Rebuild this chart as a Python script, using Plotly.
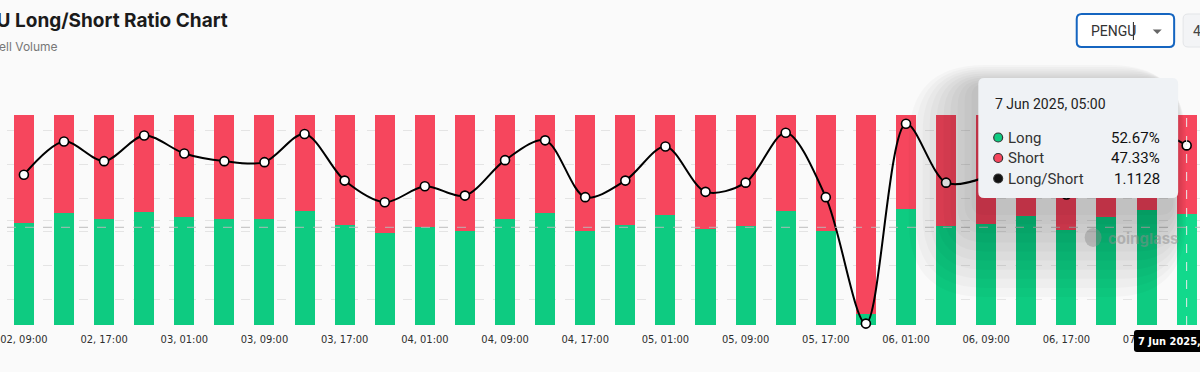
import plotly.graph_objects as go

# ---------------- data ----------------
bar_times = ["02, 09:00", "02, 13:00", "02, 17:00", "02, 21:00", "03, 01:00", "03, 05:00",
             "03, 09:00", "03, 13:00", "03, 17:00", "03, 21:00", "04, 01:00", "04, 05:00",
             "04, 09:00", "04, 13:00", "04, 17:00", "04, 21:00", "05, 01:00", "05, 05:00",
             "05, 09:00", "05, 13:00", "05, 17:00", "05, 21:00", "06, 01:00", "06, 05:00",
             "06, 09:00", "06, 13:00", "06, 17:00", "06, 21:00", "07, 01:00", "07, 05:00"]
tick_labels = bar_times[::2]

long_pct = [48.43, 53.19, 50.48, 53.95, 51.57, 50.48, 50.33, 54.14, 47.48, 43.67,
            46.52, 44.90, 50.62, 53.33, 44.62, 47.48, 52.52, 45.57, 47.14, 54.29,
            44.62, 5.24, 55.38, 47.14, 48.10, 51.90, 45.10, 51.29, 54.62, 52.67]
short_pct = [51.57, 46.81, 49.52, 46.05, 48.43, 49.52, 49.67, 45.86, 52.52, 56.33,
             53.48, 55.10, 49.38, 46.67, 55.38, 52.52, 47.48, 54.43, 52.86, 45.71,
             55.38, 94.76, 44.62, 52.86, 51.90, 48.10, 54.90, 48.71, 45.38, 47.33]
ls_ratio = [0.9390, 1.1363, 1.0194, 1.1716, 1.0648, 1.0194, 1.0133, 1.1806, 0.9040, 0.7753,
            0.8699, 0.8149, 1.0251, 1.1427, 0.8057, 0.9040, 1.1061, 0.8372, 0.8918, 1.1877,
            0.8057, 0.0553, 1.2411, 0.8918, 0.9268, 1.0790, 0.8215, 1.0530, 1.2036, 1.1128]

tooltip_title = "7 Jun 2025, 05:00"
tooltip_rows = [("Long", "52.67%", "#0ecb81"), ("Short", "47.33%", "#f6465d"),
                ("Long/Short", "1.1128", "#111111")]

GREEN = "#0ecb81"
RED = "#f6465d"
BG = "#fafafa"

W, H = 1200, 372
PT, PB = 115, 325  # plot area top / bottom in px


def px(x):
    return x / W


def py(y):
    return (PB - y) / (PB - PT)


def rrect_path(x0, y0, x1, y1, r):
    pts = [
        ("M", [(x0 + r, y0)]), ("L", [(x1 - r, y0)]), ("Q", [(x1, y0), (x1, y0 + r)]),
        ("L", [(x1, y1 - r)]), ("Q", [(x1, y1), (x1 - r, y1)]), ("L", [(x0 + r, y1)]),
        ("Q", [(x0, y1), (x0, y1 - r)]), ("L", [(x0, y0 + r)]), ("Q", [(x0, y0), (x0 + r, y0)]),
    ]
    s = ""
    for cmd, ps in pts:
        s += cmd + " " + " ".join(f"{px(a):.5f},{py(b):.5f}" for a, b in ps) + " "
    return s + "Z"


long_colors = [GREEN] * len(long_pct)
long_colors[-1] = "#12d98c"

fig = go.Figure()
fig.add_trace(go.Bar(x=bar_times, y=long_pct, name="Long", marker=dict(color=long_colors, line=dict(width=0)),
                     width=0.5, yaxis="y"))
fig.add_trace(go.Bar(x=bar_times, y=short_pct, name="Short", marker=dict(color=RED, line=dict(width=0)),
                     width=0.5, yaxis="y"))
fig.add_trace(go.Scatter(x=bar_times, y=ls_ratio, name="Long/Short", yaxis="y2", mode="lines+markers",
                         line=dict(color="#000000", width=2, shape="spline", smoothing=0.9),
                         marker=dict(size=9, color="#ffffff", line=dict(color="#000000", width=1.6)),
                         cliponaxis=False))

r_per_px = 168.5
r_zero_px = 332.9
y2_range = [(r_zero_px - PB) / r_per_px, (r_zero_px - PT) / r_per_px]

fig.update_layout(
    width=W, height=H,
    margin=dict(l=0, r=0, t=PT, b=H - PB, pad=0),
    paper_bgcolor=BG, plot_bgcolor=BG,
    barmode="stack", bargap=0.5,
    showlegend=False,
    xaxis=dict(type="category", range=[-17 / 40.33, -17 / 40.33 + W / 40.33],
               tickmode="array", tickvals=tick_labels, ticktext=tick_labels,
               showgrid=False, zeroline=False, showline=False, ticks="", ticklabelstandoff=6,
               tickfont=dict(family="DejaVu Sans Condensed, Roboto Condensed, Roboto", size=11, color="#2e2e2e")),
    yaxis=dict(range=[0, 100], dtick=50, showticklabels=False, zeroline=False,
               gridcolor="#e4e4e4", griddash="dash", gridwidth=1),
    yaxis2=dict(overlaying="y", side="right", range=y2_range, tick0=0, dtick=0.2,
                showticklabels=False, zeroline=False, gridcolor="#e4e4e4", griddash="dash", gridwidth=1),
    font=dict(family="Roboto, Inter, sans-serif"),
)

shapes = []
# crosshair
shapes.append(dict(type="line", xref="paper", yref="paper", x0=0, x1=1, y0=py(227.3), y1=py(227.3),
                   line=dict(color="rgba(185,185,185,0.95)", width=1, dash="dash"), layer="above"))
xc = 17 + 40.33 * 29
shapes.append(dict(type="line", xref="paper", yref="paper", x0=px(xc), x1=px(xc), y0=0, y1=1,
                   line=dict(color="rgba(235,235,235,1)", width=1, dash="dash"), layer="above"))

# tooltip shadow
bx0, by0, bx1, by1 = 977, 78, 1178, 198
for k in range(1, 11):
    e = 7 * k
    shapes.append(dict(type="path", xref="paper", yref="paper",
                       path=rrect_path(bx0 - e, by0 - 0.3 * e + 8, bx1 + 0.2 * e - 6, by1 + 1.3 * e + 8, 6 + e),
                       fillcolor="rgba(0,0,0,0.022)", line=dict(width=0), layer="above"))
# tooltip box
shapes.append(dict(type="path", xref="paper", yref="paper", path=rrect_path(bx0, by0, bx1, by1, 6),
                   fillcolor="#eff2f5", line=dict(width=0), layer="above"))
for i, (lab, val, col) in enumerate(tooltip_rows):
    cy = 137.5 + i * 20.5
    shapes.append(dict(type="circle", xref="paper", yref="paper",
                       x0=px(997 - 4.5), x1=px(997 + 4.5), y0=py(cy + 4.5), y1=py(cy - 4.5),
                       fillcolor=col, line=dict(color="#333333", width=1.2), layer="above"))

# axis pointer label box
shapes.append(dict(type="path", xref="paper", yref="paper", path=rrect_path(xc - 53, 330, xc + 53, 352, 3),
                   fillcolor="#000000", line=dict(width=0), layer="above"))

# dropdown boxes
shapes.append(dict(type="path", xref="paper", yref="paper", path=rrect_path(1076, 14, 1174, 47, 5),
                   fillcolor="#ffffff", line=dict(color="#1565c0", width=2), layer="above"))
shapes.append(dict(type="line", xref="paper", yref="paper", x0=px(1133), x1=px(1133), y0=py(22), y1=py(40),
                   line=dict(color="#222222", width=1), layer="above"))
shapes.append(dict(type="path", xref="paper", yref="paper",
                   path=f"M {px(1152.5)},{py(29.5)} L {px(1161.5)},{py(29.5)} L {px(1157)},{py(34)} Z",
                   fillcolor="#666666", line=dict(width=0), layer="above"))
shapes.append(dict(type="path", xref="paper", yref="paper", path=rrect_path(1183, 14, 1260, 47, 5),
                   fillcolor="#f3f4f6", line=dict(color="#e3e5e8", width=1), layer="above"))
# watermark blob
shapes.append(dict(type="circle", xref="paper", yref="paper",
                   x0=px(1084), x1=px(1101), y0=py(247), y1=py(228),
                   fillcolor="rgba(140,140,140,0.45)", line=dict(width=0), layer="above"))
fig.update_layout(shapes=shapes)

ann = []
ann.append(dict(xref="paper", yref="paper", x=px(224), y=py(20), xanchor="right", yanchor="middle",
                text="<b>PENGU Long/Short Ratio Chart</b>", showarrow=False,
                font=dict(family="Inter, Roboto", size=19, color="#1b1b1b")))
ann.append(dict(xref="paper", yref="paper", x=px(53), y=py(46), xanchor="right", yanchor="middle",
                text="Buy/Sell Volume", showarrow=False,
                font=dict(family="Inter, Roboto", size=12, color="#777777")))
ann.append(dict(xref="paper", yref="paper", x=px(1088), y=py(31), xanchor="left", yanchor="middle",
                text="PENGU", showarrow=False, font=dict(family="Roboto", size=14, color="#333333")))
ann.append(dict(xref="paper", yref="paper", x=px(1191), y=py(31), xanchor="left", yanchor="middle",
                text="4 hour", showarrow=False, font=dict(family="Roboto", size=14, color="#444444")))
ann.append(dict(xref="paper", yref="paper", x=px(1105), y=py(238), xanchor="left", yanchor="middle",
                text="<b>coinglass</b>", showarrow=False,
                font=dict(family="Inter, Roboto", size=15, color="rgba(140,140,140,0.5)")))
ann.append(dict(xref="paper", yref="paper", x=px(992), y=py(104.5), xanchor="left", yanchor="middle",
                text=tooltip_title, showarrow=False, font=dict(family="Roboto", size=14, color="#222222")))
for i, (lab, val, col) in enumerate(tooltip_rows):
    cy = 137.5 + i * 20.5
    ann.append(dict(xref="paper", yref="paper", x=px(1005), y=py(cy), xanchor="left", yanchor="middle",
                    text=lab, showarrow=False, font=dict(family="Roboto", size=15, color="#333333")))
    ann.append(dict(xref="paper", yref="paper", x=px(1162), y=py(cy), xanchor="right", yanchor="middle",
                    text=val, showarrow=False, font=dict(family="Roboto", size=15, color="#111111")))
ann.append(dict(xref="paper", yref="paper", x=px(xc), y=py(341), xanchor="center", yanchor="middle",
                text="<b>" + tooltip_title + "</b>", showarrow=False,
                font=dict(family="DejaVu Sans Condensed, Roboto", size=11, color="#ffffff")))
fig.update_layout(annotations=ann)

fig.write_html("out.html", config={"displayModeBar": False},
               post_script="document.body.style.margin='0';document.body.style.background='#fafafa';"
                           "document.body.style.overflow='hidden';")
